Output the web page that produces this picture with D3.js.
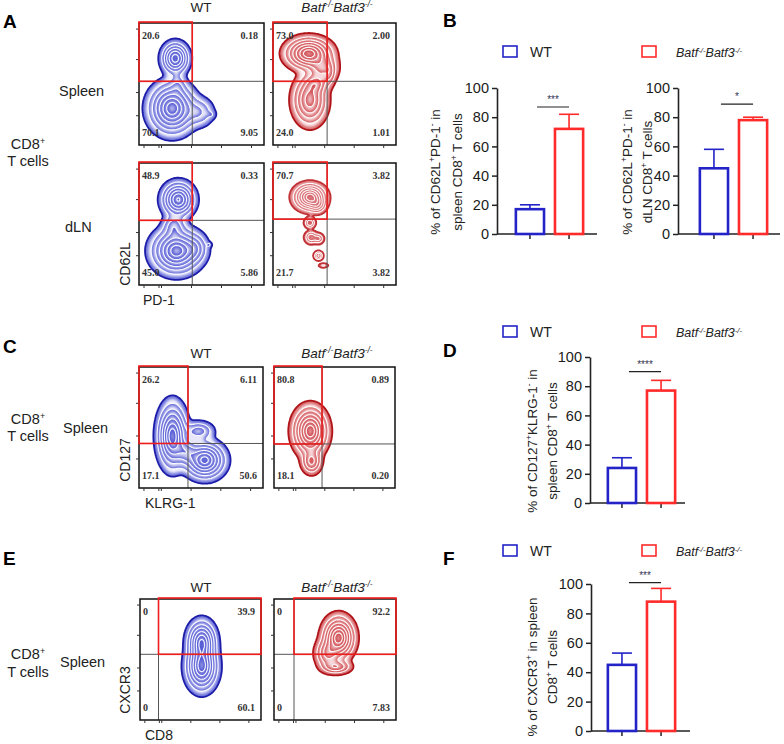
<!DOCTYPE html>
<html>
<head>
<meta charset="utf-8">
<script src="https://cdn.jsdelivr.net/npm/d3@7"></script>
<style>
  body { margin: 0; background: #fff; }
  svg { font-family: Arial, "Liberation Sans", sans-serif; }
</style>
</head>
<body>
<svg id="fig" width="784" height="744"></svg>
<script>
// ---- data ----
const groups = ["WT", "KO"];
const yTicks = [0, 20, 40, 60, 80, 100];

// bar panels: mean and upper error (SD) per group, y of significance bar
const bSpleenMean = [17, 72], bSpleenErr = [3, 10], bSpleenSig = 87;
const bDlnMean = [45, 78], bDlnErr = [13, 2], bDlnSig = 89;
const dMean = [24, 77], dErr = [7, 7], dSig = 90;
const fMean = [45, 88], fErr = [8, 9], fSig = 101;

// flow quadrant percentages [UL, UR, LL, LR]
const qSpleenWT = ["20.6", "0.18", "70.1", "9.05"];
const qSpleenKO = ["73.0", "2.00", "24.0", "1.01"];
const qDlnWT = ["48.9", "0.33", "45.0", "5.86"];
const qDlnKO = ["70.7", "3.82", "21.7", "3.82"];
const qKlrgWT = ["26.2", "6.11", "17.1", "50.6"];
const qKlrgKO = ["80.8", "0.89", "18.1", "0.20"];
const qCxcrWT = ["0", "39.9", "0", "60.1"];
const qCxcrKO = ["0", "92.2", "0", "7.83"];

// populations in each flow plot: [x, y, sdX, sdY, weight] on a 0-1 display scale
const popSpleenWT = [[0.29, 0.71, 0.05, 0.06, 0.8], [0.265, 0.30, 0.085, 0.095, 1.0], [0.31, 0.49, 0.035, 0.05, 0.12], [0.48, 0.27, 0.06, 0.06, 0.18], [0.58, 0.25, 0.02, 0.02, 0.05]];
const popSpleenKO = [[0.29, 0.75, 0.085, 0.06, 1.0], [0.40, 0.63, 0.06, 0.06, 0.35], [0.30, 0.37, 0.065, 0.095, 0.6], [0.46, 0.58, 0.025, 0.05, 0.12], [0.35, 0.5, 0.05, 0.04, 0.3]];
const popDlnWT = [[0.315, 0.70, 0.06, 0.065, 0.9], [0.30, 0.28, 0.09, 0.085, 1.0], [0.28, 0.48, 0.045, 0.05, 0.25], [0.45, 0.3, 0.05, 0.06, 0.2], [0.56, 0.33, 0.012, 0.012, 0.08]];
const popDlnKO = [[0.30, 0.72, 0.06, 0.05, 1.0], [0.36, 0.66, 0.035, 0.035, 0.3], [0.30, 0.51, 0.022, 0.022, 0.3], [0.31, 0.39, 0.026, 0.026, 0.3], [0.37, 0.38, 0.022, 0.022, 0.22], [0.37, 0.24, 0.018, 0.018, 0.35], [0.41, 0.16, 0.022, 0.01, 0.1]];
const popKlrgWT = [[0.27, 0.43, 0.055, 0.12, 1.0], [0.53, 0.23, 0.075, 0.07, 0.95], [0.48, 0.47, 0.06, 0.04, 0.25], [0.38, 0.3, 0.05, 0.06, 0.35]];
const popKlrgKO = [[0.30, 0.47, 0.065, 0.09, 1.0], [0.31, 0.22, 0.04, 0.05, 0.35]];
const popCxcrWT = [[0.51, 0.645, 0.055, 0.08, 0.9], [0.51, 0.44, 0.06, 0.09, 1.0]];
const popCxcrKO = [[0.53, 0.68, 0.06, 0.08, 1.0], [0.44, 0.55, 0.05, 0.06, 0.35], [0.51, 0.44, 0.06, 0.03, 0.3]];

const levels = [0.02, 0.08, 0.18, 0.32, 0.5, 0.7, 0.88];
const axTicksY = [0.24, 0.43, 0.7, 0.95];
const axTicksX = [0.04, 0.16, 0.18, 0.42, 0.66, 0.9];

const blue = "#2323c8", red = "#ff2b2b";
const svg = d3.select("#fig");
const defs = svg.append("defs");
defs.append("filter").attr("id", "soft").attr("x", "-20%").attr("y", "-20%").attr("width", "140%").attr("height", "140%")
  .append("feGaussianBlur").attr("stdDeviation", 1.4);
let clipId = 0;

// ---- helpers ----
function rich(text, parts) {
  parts.forEach(([s, sup]) => {
    const t = text.append("tspan").text(s);
    if (sup) t.attr("baseline-shift", "super").attr("font-size", "0.62em");
  });
  return text;
}
const ko = [["Batf", 0], ["-/-", 1], ["Batf3", 0], ["-/-", 1]];
const cd8 = [["CD8", 0], ["+", 1]];

function label(x, y, parts, opts = {}) {
  const t = svg.append("text").attr("x", x).attr("y", y)
    .attr("font-size", opts.size || 13).attr("fill", opts.fill || "#222")
    .attr("text-anchor", opts.anchor || "start");
  if (opts.italic) t.attr("font-style", "italic");
  if (opts.bold) t.attr("font-weight", "bold");
  return rich(t, typeof parts === "string" ? [[parts, 0]] : parts);
}
function vlabel(x, y, parts, size = 13) {
  const t = svg.append("text").attr("transform", `translate(${x},${y}) rotate(-90)`)
    .attr("text-anchor", "middle").attr("font-size", size).attr("fill", "#222");
  return rich(t, typeof parts === "string" ? [[parts, 0]] : parts);
}

function density(pops, n) {
  const v = new Array(n * n);
  for (let j = 0; j < n; j++) {
    const fy = 1 - (j + 0.5) / n;
    for (let i = 0; i < n; i++) {
      const fx = (i + 0.5) / n;
      let s = 0;
      for (const [cx, cy, sx, sy, w] of pops) {
        const dx = (fx - cx) / sx, dy = (fy - cy) / sy;
        s += w * Math.exp(-0.5 * (dx * dx + dy * dy));
      }
      v[j * n + i] = s;
    }
  }
  return v;
}

function flowPlot({x0, y0, w, h, vq, hq, gate, pops, quads, fill, edge}) {
  const x = d3.scaleLinear([0, 1], [x0, x0 + w]);
  const y = d3.scaleLinear([0, 1], [y0 + h, y0]);
  const g = svg.append("g");
  const n = 120;
  const v = density(pops, n);
  const mx = d3.max(v);
  const cs = d3.contours().size([n, n]).thresholds(levels.map(l => l * mx))(v);
  const path = d3.geoPath(d3.geoTransform({
    point(px, py) { this.stream.point(x(px / n), y(1 - py / n)); }
  }));
  const cg = g.append("g");
  cs.forEach((c, i) => {
    const d = path(c);
    if (!d) return;
    const id = "cl" + (clipId++);
    defs.append("clipPath").attr("id", id).append("path").attr("d", d);
    cg.append("path").attr("d", d).attr("fill", fill).attr("fill-opacity", 0.06);
    // shading just inside each contour line
    cg.append("g").attr("clip-path", `url(#${id})`)
      .append("path").attr("d", d).attr("fill", "none").attr("stroke", fill)
      .attr("stroke-width", i === 0 ? 7 : 5).attr("stroke-opacity", 0.7).attr("filter", "url(#soft)");
  });
  cs.forEach((c, i) => {
    const d = path(c);
    if (!d) return;
    if (i === 0) {
      cg.append("path").attr("d", d).attr("fill", "none").attr("stroke", edge).attr("stroke-width", 1.8);
    } else {
      cg.append("path").attr("d", d).attr("fill", "none").attr("stroke", "#fff").attr("stroke-width", 1.1).attr("stroke-opacity", 0.95);
    }
  });

  // quadrant lines
  g.append("line").attr("x1", x(vq)).attr("x2", x(vq)).attr("y1", y(0)).attr("y2", y(1)).attr("stroke", "#555").attr("stroke-width", 1);
  g.append("line").attr("x1", x(0)).attr("x2", x(1)).attr("y1", y(hq)).attr("y2", y(hq)).attr("stroke", "#555").attr("stroke-width", 1);
  // frame
  g.append("rect").attr("x", x0).attr("y", y0).attr("width", w).attr("height", h)
    .attr("fill", "none").attr("stroke", "#111").attr("stroke-width", 1.5);
  // axis ticks
  g.selectAll(null).data(axTicksY).join("line")
    .attr("x1", x(0) - 3).attr("x2", x(0)).attr("y1", d => y(d)).attr("y2", d => y(d)).attr("stroke", "#333");
  g.selectAll(null).data(axTicksX).join("line")
    .attr("x1", d => x(d)).attr("x2", d => x(d)).attr("y1", y(0)).attr("y2", y(0) + 3).attr("stroke", "#333");
  // gate
  const gx = gate === "tl" ? [0, vq] : [vq, 1];
  g.append("rect").attr("x", x(gx[0])).attr("y", y(1) - 1)
    .attr("width", x(gx[1]) - x(gx[0])).attr("height", y(hq) - y(1) + 1)
    .attr("fill", "none").attr("stroke", "#f01c1c").attr("stroke-width", 1.6);
  // quadrant numbers
  const pos = [[x(0) + 3, y(1) + 16, "start"], [x(1) - 6, y(1) + 16, "end"],
               [x(0) + 3, y(0) - 9, "start"], [x(1) - 6, y(0) - 9, "end"]];
  g.selectAll(null).data(quads).join("text")
    .attr("x", (d, i) => pos[i][0]).attr("y", (d, i) => pos[i][1])
    .attr("text-anchor", (d, i) => pos[i][2])
    .attr("font-family", "'Liberation Serif', 'Times New Roman', serif")
    .attr("font-weight", "bold").attr("font-size", 10).attr("fill", "#333")
    .text(d => d);
}

function barChart({ax, yTop, yBot, xEnd, band, means, errs, sig, stars, labelX, labelY, lines}) {
  const y = d3.scaleLinear([0, 100], [yBot, yTop]);
  const x = d3.scaleBand(groups, [ax + band[0], ax + band[1]]).paddingInner(0.28).paddingOuter(0.15);
  const colors = [blue, red];
  const g = svg.append("g");
  const yAxis = g.append("g").attr("transform", `translate(${ax},0)`)
    .call(d3.axisLeft(y).tickValues(yTicks).tickSize(5).tickSizeOuter(0).tickPadding(3));
  yAxis.select(".domain").attr("stroke", "#222").attr("stroke-width", 1.6);
  yAxis.selectAll(".tick line").attr("stroke", "#222").attr("stroke-width", 1.5);
  yAxis.selectAll(".tick text").attr("font-size", 14.5).attr("fill", "#1a1a1a").attr("font-family", "Arial, 'Liberation Sans', sans-serif");
  g.append("line").attr("x1", ax).attr("x2", xEnd).attr("y1", y(0)).attr("y2", y(0)).attr("stroke", "#222").attr("stroke-width", 1.6);
  g.selectAll(null).data(groups).join("line")
    .attr("x1", d => x(d) + x.bandwidth() / 2).attr("x2", d => x(d) + x.bandwidth() / 2)
    .attr("y1", y(0)).attr("y2", y(0) + 5).attr("stroke", "#222").attr("stroke-width", 1.5);
  // error bars (upper)
  groups.forEach((k, i) => {
    const cx = x(k) + x.bandwidth() / 2;
    g.append("line").attr("x1", cx).attr("x2", cx).attr("y1", y(means[i])).attr("y2", y(means[i] + errs[i]))
      .attr("stroke", colors[i]).attr("stroke-width", 1.6);
    g.append("line").attr("x1", cx - 10).attr("x2", cx + 10).attr("y1", y(means[i] + errs[i])).attr("y2", y(means[i] + errs[i]))
      .attr("stroke", colors[i]).attr("stroke-width", 1.6);
  });
  g.selectAll(null).data(groups).join("rect")
    .attr("x", d => x(d)).attr("width", x.bandwidth())
    .attr("y", (d, i) => y(means[i])).attr("height", (d, i) => y(0) - y(means[i]))
    .attr("fill", "none").attr("stroke", (d, i) => colors[i]).attr("stroke-width", 2.6);
  // significance
  const s0 = x("WT") + x.bandwidth() / 2 + 7, s1 = x("KO") + x.bandwidth() / 2;
  g.append("line").attr("x1", s0).attr("x2", s1).attr("y1", y(sig)).attr("y2", y(sig)).attr("stroke", "#222").attr("stroke-width", 1.2);
  g.append("text").attr("x", (s0 + s1) / 2).attr("y", y(sig) - 4).attr("text-anchor", "middle")
    .attr("font-size", 10).attr("fill", "#335").text(stars);
  lines.forEach((parts, i) => vlabel(labelX[i] + 5, labelY, parts, 13.5));
}

function legend(y) {
  svg.append("rect").attr("x", 503).attr("y", y).attr("width", 14).attr("height", 11).attr("fill", "none").attr("stroke", blue).attr("stroke-width", 1.6);
  label(530, y + 11, "WT", {size: 14});
  svg.append("rect").attr("x", 642).attr("y", y).attr("width", 14).attr("height", 11).attr("fill", "none").attr("stroke", red).attr("stroke-width", 1.6);
  label(676, y + 11, ko, {size: 12.5, italic: true});
}

// ---- panel letters ----
[["A", 3, 28], ["B", 443, 27], ["C", 3, 353], ["D", 443, 357], ["E", 3, 565], ["F", 443, 565]]
  .forEach(([t, x, y]) => label(x, y, t, {size: 19, bold: true, fill: "#000"}));

// ---- panel A ----
label(201, 12, "WT", {anchor: "middle", size: 13.5});
label(337, 12, ko, {anchor: "middle", italic: true, size: 13.5});
label(59, 96, "Spleen", {size: 14.5});
label(65, 232, "dLN", {size: 14.5});
label(28, 149, cd8, {anchor: "middle", size: 14.5});
label(28, 166, "T cells", {anchor: "middle", size: 14.5});
flowPlot({x0: 139, y0: 23, w: 125, h: 122, vq: 0.426, hq: 0.522, gate: "tl", pops: popSpleenWT, quads: qSpleenWT, fill: "#3036cc", edge: "#1c1ca8"});
flowPlot({x0: 273, y0: 23, w: 123, h: 122, vq: 0.44, hq: 0.522, gate: "tl", pops: popSpleenKO, quads: qSpleenKO, fill: "#c92a2e", edge: "#b01418"});
flowPlot({x0: 139, y0: 163, w: 125, h: 122, vq: 0.426, hq: 0.53, gate: "tl", pops: popDlnWT, quads: qDlnWT, fill: "#3036cc", edge: "#1c1ca8"});
flowPlot({x0: 273, y0: 163, w: 123, h: 122, vq: 0.44, hq: 0.54, gate: "tl", pops: popDlnKO, quads: qDlnKO, fill: "#d04a4e", edge: "#c03034"});
vlabel(130, 264, "CD62L", 14);
label(143, 305, "PD-1", {size: 14});

// ---- panel B ----
legend(46);
barChart({ax: 497, yTop: 88, yBot: 234, xEnd: 597, band: [13, 92], means: bSpleenMean, errs: bSpleenErr, sig: bSpleenSig, stars: "***",
  labelX: [435, 457], labelY: 172,
  lines: [[["% of CD62L", 0], ["+", 1], ["PD-1", 0], ["-", 1], [" in", 0]], [["spleen CD8", 0], ["+", 1], [" T cells", 0]]]});
barChart({ax: 678, yTop: 88, yBot: 234, xEnd: 780, band: [16, 95], means: bDlnMean, errs: bDlnErr, sig: bDlnSig, stars: "*",
  labelX: [627, 647], labelY: 172,
  lines: [[["% of CD62L", 0], ["+", 1], ["PD-1", 0], ["-", 1], [" in", 0]], [["dLN CD8", 0], ["+", 1], [" T cells", 0]]]});

// ---- panel C ----
label(201, 358, "WT", {anchor: "middle", size: 13.5});
label(337, 358, ko, {anchor: "middle", italic: true, size: 13.5});
label(28, 424, cd8, {anchor: "middle", size: 14.5});
label(28, 441, "T cells", {anchor: "middle", size: 14.5});
label(63, 433, "Spleen", {size: 14.5});
flowPlot({x0: 139, y0: 367, w: 124, h: 121, vq: 0.395, hq: 0.368, gate: "tl", pops: popKlrgWT, quads: qKlrgWT, fill: "#3036cc", edge: "#1c1ca8"});
flowPlot({x0: 274, y0: 367, w: 121, h: 121, vq: 0.397, hq: 0.364, gate: "tl", pops: popKlrgKO, quads: qKlrgKO, fill: "#c92a2e", edge: "#b01418"});
vlabel(130, 460, "CD127", 14);
label(145, 508, "KLRG-1", {size: 14});

// ---- panel D ----
legend(326);
barChart({ax: 590, yTop: 357, yBot: 503, xEnd: 685, band: [12, 91], means: dMean, errs: dErr, sig: dSig, stars: "****",
  labelX: [532, 552], labelY: 441,
  lines: [[["% of CD127", 0], ["+", 1], ["KLRG-1", 0], ["-", 1], [" in", 0]], [["spleen CD8", 0], ["+", 1], [" T cells", 0]]]});

// ---- panel E ----
label(201, 592, "WT", {anchor: "middle", size: 13.5});
label(337, 592, ko, {anchor: "middle", italic: true, size: 13.5});
label(28, 659, cd8, {anchor: "middle", size: 14.5});
label(28, 677, "T cells", {anchor: "middle", size: 14.5});
label(60, 667, "Spleen", {size: 14.5});
flowPlot({x0: 140, y0: 599, w: 121, h: 121, vq: 0.153, hq: 0.543, gate: "tr", pops: popCxcrWT, quads: qCxcrWT, fill: "#3036cc", edge: "#1c1ca8"});
flowPlot({x0: 274, y0: 599, w: 122, h: 121, vq: 0.164, hq: 0.543, gate: "tr", pops: popCxcrKO, quads: qCxcrKO, fill: "#c92a2e", edge: "#b01418"});
vlabel(130, 690, "CXCR3", 14);
label(145, 740, "CD8", {size: 14});

// ---- panel F ----
legend(545);
barChart({ax: 591, yTop: 584, yBot: 731, xEnd: 690, band: [11, 90], means: fMean, errs: fErr, sig: fSig, stars: "***",
  labelX: [532, 552], labelY: 667,
  lines: [[["% of CXCR3", 0], ["+", 1], [" in spleen", 0]], [["CD8", 0], ["+", 1], [" T cells", 0]]]});
</script>
</body>
</html>
